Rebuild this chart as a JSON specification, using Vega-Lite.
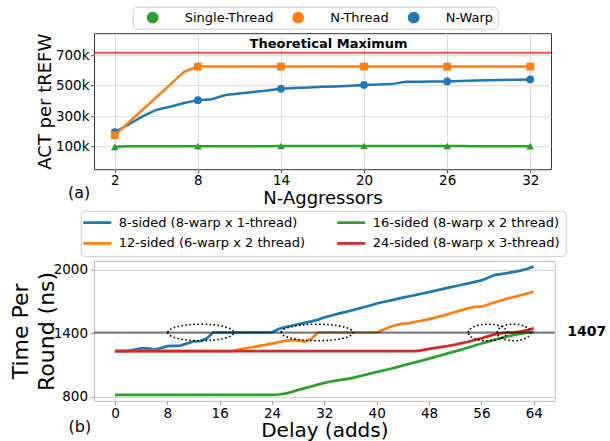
{
  "$schema": "https://vega.github.io/schema/vega-lite/v6.json",
  "padding": {"left": 9, "top": 5.2, "right": 5, "bottom": 5},
  "bounds": "flush",
  "spacing": 91.7,
  "config": {
    "font": "DejaVu Sans",
    "view": {"stroke": null},
    "axis": {"labelFont": "DejaVu Sans", "titleFont": "DejaVu Sans", "labelColor": "#000", "titleColor": "#000", "titleFontWeight": "normal", "domain": false},
    "legend": {"labelFont": "DejaVu Sans", "labelColor": "#000", "labelLimit": 400},
    "text": {"font": "DejaVu Sans"}
  },
  "resolve": {"scale": {"color": "independent", "x": "independent", "y": "independent"}, "legend": {"color": "independent"}},
  "datasets": {
    "top": [
      {"n": 2, "st": 99000, "nt": 175000, "nw": 195000},
      {"n": 3, "st": 102000, "nt": 258000, "nw": 245000},
      {"n": 4, "st": 103000, "nt": 341000, "nw": 298000},
      {"n": 5, "st": 103000, "nt": 424000, "nw": 341000},
      {"n": 6, "st": 103000, "nt": 507000, "nw": 362000},
      {"n": 7, "st": 103000, "nt": 590000, "nw": 386000},
      {"n": 8, "st": 103000, "nt": 625000, "nw": 405000},
      {"n": 9, "st": 103000, "nt": 625000, "nw": 411000},
      {"n": 10, "st": 103000, "nt": 625000, "nw": 439000},
      {"n": 11, "st": 103000, "nt": 625000, "nw": 448000},
      {"n": 12, "st": 103000, "nt": 625000, "nw": 458000},
      {"n": 13, "st": 103000, "nt": 625000, "nw": 468000},
      {"n": 14, "st": 104000, "nt": 625000, "nw": 479000},
      {"n": 15, "st": 104000, "nt": 625000, "nw": 484000},
      {"n": 16, "st": 104000, "nt": 625000, "nw": 488000},
      {"n": 17, "st": 104000, "nt": 625000, "nw": 492000},
      {"n": 18, "st": 104000, "nt": 625000, "nw": 495000},
      {"n": 19, "st": 104000, "nt": 625000, "nw": 500000},
      {"n": 20, "st": 104000, "nt": 625000, "nw": 505000},
      {"n": 21, "st": 104000, "nt": 625000, "nw": 507000},
      {"n": 22, "st": 104000, "nt": 625000, "nw": 510000},
      {"n": 23, "st": 104000, "nt": 625000, "nw": 525000},
      {"n": 24, "st": 104000, "nt": 625000, "nw": 526000},
      {"n": 25, "st": 104000, "nt": 625000, "nw": 527000},
      {"n": 26, "st": 104000, "nt": 625000, "nw": 528000},
      {"n": 27, "st": 104000, "nt": 625000, "nw": 530000},
      {"n": 28, "st": 103000, "nt": 625000, "nw": 533000},
      {"n": 29, "st": 103000, "nt": 625000, "nw": 535000},
      {"n": 30, "st": 103000, "nt": 625000, "nw": 537000},
      {"n": 31, "st": 103000, "nt": 625000, "nw": 539000},
      {"n": 32, "st": 103000, "nt": 625000, "nw": 541000}
    ],
    "bottom": [
      {"d": 0, "b": 1232, "o": 1232, "g": 819, "r": 1232},
      {"d": 1, "b": 1232, "o": 1232, "g": 819, "r": 1232},
      {"d": 2, "b": 1232, "o": 1232, "g": 819, "r": 1232},
      {"d": 3, "b": 1245, "o": 1232, "g": 819, "r": 1232},
      {"d": 4, "b": 1257, "o": 1232, "g": 819, "r": 1232},
      {"d": 5, "b": 1257, "o": 1232, "g": 819, "r": 1232},
      {"d": 6, "b": 1245, "o": 1232, "g": 819, "r": 1232},
      {"d": 7, "b": 1260, "o": 1232, "g": 819, "r": 1232},
      {"d": 8, "b": 1278, "o": 1232, "g": 819, "r": 1232},
      {"d": 9, "b": 1281, "o": 1232, "g": 819, "r": 1232},
      {"d": 10, "b": 1283, "o": 1232, "g": 819, "r": 1232},
      {"d": 11, "b": 1303, "o": 1232, "g": 819, "r": 1232},
      {"d": 12, "b": 1322, "o": 1232, "g": 819, "r": 1232},
      {"d": 13, "b": 1326, "o": 1232, "g": 819, "r": 1232},
      {"d": 14, "b": 1350, "o": 1232, "g": 819, "r": 1232},
      {"d": 15, "b": 1407, "o": 1232, "g": 819, "r": 1232},
      {"d": 16, "b": 1407, "o": 1232, "g": 819, "r": 1232},
      {"d": 17, "b": 1407, "o": 1232, "g": 819, "r": 1232},
      {"d": 18, "b": 1407, "o": 1232, "g": 819, "r": 1232},
      {"d": 19, "b": 1407, "o": 1245, "g": 819, "r": 1232},
      {"d": 20, "b": 1407, "o": 1258, "g": 819, "r": 1232},
      {"d": 21, "b": 1407, "o": 1268, "g": 819, "r": 1232},
      {"d": 22, "b": 1407, "o": 1280, "g": 819, "r": 1232},
      {"d": 23, "b": 1407, "o": 1290, "g": 819, "r": 1232},
      {"d": 24, "b": 1407, "o": 1302, "g": 819, "r": 1232},
      {"d": 25, "b": 1440, "o": 1315, "g": 822, "r": 1232},
      {"d": 26, "b": 1458, "o": 1328, "g": 831, "r": 1232},
      {"d": 27, "b": 1470, "o": 1334, "g": 846, "r": 1232},
      {"d": 28, "b": 1485, "o": 1330, "g": 866, "r": 1232},
      {"d": 29, "b": 1498, "o": 1322, "g": 882, "r": 1232},
      {"d": 30, "b": 1512, "o": 1345, "g": 898, "r": 1232},
      {"d": 31, "b": 1526, "o": 1407, "g": 915, "r": 1232},
      {"d": 32, "b": 1550, "o": 1407, "g": 932, "r": 1232},
      {"d": 33, "b": 1565, "o": 1407, "g": 945, "r": 1232},
      {"d": 34, "b": 1582, "o": 1407, "g": 956, "r": 1232},
      {"d": 35, "b": 1597, "o": 1407, "g": 965, "r": 1232},
      {"d": 36, "b": 1612, "o": 1407, "g": 974, "r": 1232},
      {"d": 37, "b": 1628, "o": 1407, "g": 989, "r": 1232},
      {"d": 38, "b": 1645, "o": 1407, "g": 1004, "r": 1232},
      {"d": 39, "b": 1662, "o": 1407, "g": 1019, "r": 1232},
      {"d": 40, "b": 1680, "o": 1407, "g": 1034, "r": 1232},
      {"d": 41, "b": 1694, "o": 1432, "g": 1049, "r": 1232},
      {"d": 42, "b": 1708, "o": 1458, "g": 1063, "r": 1232},
      {"d": 43, "b": 1722, "o": 1477, "g": 1078, "r": 1232},
      {"d": 44, "b": 1736, "o": 1490, "g": 1095, "r": 1232},
      {"d": 45, "b": 1749, "o": 1495, "g": 1112, "r": 1232},
      {"d": 46, "b": 1762, "o": 1508, "g": 1128, "r": 1232},
      {"d": 47, "b": 1775, "o": 1520, "g": 1144, "r": 1240},
      {"d": 48, "b": 1788, "o": 1533, "g": 1160, "r": 1252},
      {"d": 49, "b": 1802, "o": 1548, "g": 1177, "r": 1262},
      {"d": 50, "b": 1816, "o": 1563, "g": 1194, "r": 1272},
      {"d": 51, "b": 1830, "o": 1582, "g": 1212, "r": 1282},
      {"d": 52, "b": 1843, "o": 1600, "g": 1229, "r": 1293},
      {"d": 53, "b": 1857, "o": 1618, "g": 1247, "r": 1306},
      {"d": 54, "b": 1870, "o": 1636, "g": 1265, "r": 1320},
      {"d": 55, "b": 1884, "o": 1648, "g": 1284, "r": 1336},
      {"d": 56, "b": 1898, "o": 1650, "g": 1303, "r": 1353},
      {"d": 57, "b": 1922, "o": 1670, "g": 1321, "r": 1370},
      {"d": 58, "b": 1948, "o": 1690, "g": 1339, "r": 1388},
      {"d": 59, "b": 1958, "o": 1708, "g": 1355, "r": 1400},
      {"d": 60, "b": 1968, "o": 1727, "g": 1370, "r": 1405},
      {"d": 61, "b": 1978, "o": 1742, "g": 1383, "r": 1408},
      {"d": 62, "b": 1990, "o": 1758, "g": 1395, "r": 1415},
      {"d": 63, "b": 2008, "o": 1775, "g": 1405, "r": 1430},
      {"d": 64, "b": 2028, "o": 1793, "g": 1413, "r": 1447}
    ],
    "ellipses": [
      {"d": 13.12, "t": 1407, "e": "e1"},
      {"d": 30.9, "t": 1407, "e": "e2"},
      {"d": 56.97, "t": 1407, "e": "e3"},
      {"d": 60.95, "t": 1407, "e": "e4"}
    ]
  },
  "vconcat": [
    {
      "width": 457,
      "height": 136,
      "view": {"stroke": "#333333", "strokeWidth": 1},
      "layer": [
        {
          "data": {"name": "top"},
          "transform": [{"fold": ["st", "nw", "nt"], "as": ["s", "act"]}],
          "mark": {"type": "line", "strokeWidth": 2.5},
          "encoding": {
            "x": {"field": "n", "type": "quantitative", "scale": {"domain": [0.5, 33.5], "nice": false, "zero": false},
              "axis": {"title": "N-Aggressors", "values": [2, 8, 14, 20, 26, 32], "labelFontSize": 13.5, "titleFontSize": 18, "titleBaseline": "alphabetic", "titleY": 34.7, "grid": true, "gridColor": "#d9d9d9", "tickSize": 3.5, "tickColor": "#555", "labelPadding": 1}},
            "y": {"field": "act", "type": "quantitative", "scale": {"domain": [-48000, 844000], "nice": false, "zero": false},
              "axis": {"title": "ACT per tREFW", "values": [100000, 300000, 500000, 700000], "format": "~s", "labelFontSize": 13.5, "titleFontSize": 18, "titleX": -48.5, "titleY": 68, "titleBaseline": "middle", "titleAlign": "center", "grid": true, "gridColor": "#d9d9d9", "tickSize": 3.5, "tickColor": "#555", "labelPadding": 1.5}},
            "stroke": {"field": "s", "type": "nominal", "scale": {"domain": ["st", "nt", "nw"], "range": ["#2ca02c", "#ff7f0e", "#1f77b4"]}, "legend": null}
          }
        },
        {
          "data": {"name": "top"},
          "transform": [{"fold": ["st", "nw", "nt"], "as": ["s", "act"]}, {"filter": {"field": "n", "oneOf": [2, 8, 14, 20, 26, 32]}}],
          "mark": {"type": "point", "filled": true, "opacity": 1, "size": 60},
          "encoding": {
            "x": {"field": "n", "type": "quantitative"},
            "y": {"field": "act", "type": "quantitative"},
            "color": {"field": "s", "type": "nominal", "scale": {"domain": ["st", "nt", "nw"], "range": ["#2ca02c", "#ff7f0e", "#1f77b4"]},
              "legend": {"orient": "none", "legendX": 38.7, "legendY": -26.6, "columns": 3, "title": null, "labelFontSize": 13, "symbolSize": 140, "symbolOffset": 9, "labelOffset": 25, "columnPadding": 8.5, "padding": 4, "strokeColor": "#cccccc", "fillColor": "#ffffff", "cornerRadius": 4,
                "labelExpr": "datum.label == 'st' ? 'Single-Thread' : datum.label == 'nt' ? 'N-Thread' : 'N-Warp'",
                "encode": {"symbols": {"shape": {"value": {"expr": "datum.value == 'st' ? 'triangle-up' : datum.value == 'nt' ? 'square' : 'circle'"}}}}}},
            "shape": {"field": "s", "type": "nominal", "scale": {"domain": ["st", "nt", "nw"], "range": ["triangle-up", "square", "circle"]}, "legend": null}
          }
        },
        {
          "data": {"values": [{"act": 715000}]},
          "mark": {"type": "rule", "color": "#ff0000", "opacity": 0.7, "strokeWidth": 2},
          "encoding": {"y": {"field": "act", "type": "quantitative"}}
        },
        {
          "data": {"values": [{"n": 17.44, "act": 774000, "label": "Theoretical Maximum"}]},
          "mark": {"type": "text", "fontSize": 13, "fontWeight": "bold", "align": "center", "baseline": "middle", "color": "#000"},
          "encoding": {"x": {"field": "n", "type": "quantitative"}, "y": {"field": "act", "type": "quantitative"}, "text": {"field": "label"}}
        },
        {
          "data": {"values": [{"n": -0.58, "act": -204000, "label": "(a)"}]},
          "mark": {"type": "text", "fontSize": 16, "align": "center", "baseline": "middle", "color": "#000"},
          "encoding": {"x": {"field": "n", "type": "quantitative"}, "y": {"field": "act", "type": "quantitative"}, "text": {"field": "label"}}
        }
      ]
    },
    {
      "width": 460.7,
      "height": 140,
      "view": {"stroke": "#bdbdbd", "strokeWidth": 1},
      "layer": [
        {
          "data": {"name": "bottom"},
          "transform": [{"fold": ["b", "o", "g", "r"], "as": ["s", "t"]}],
          "mark": {"type": "line", "strokeWidth": 2.7},
          "encoding": {
            "x": {"field": "d", "type": "quantitative", "scale": {"domain": [-3.2, 67.2], "nice": false, "zero": false},
              "axis": {"title": "Delay (adds)", "values": [0, 4, 8, 12, 16, 20, 24, 28, 32, 36, 40, 44, 48, 52, 56, 60, 64], "labelFontSize": 13.5, "titleFontSize": 20, "titleBaseline": "alphabetic", "titleY": 36, "grid": false, "tickSize": 3.5, "tickColor": "#999", "labelPadding": 2}},
            "y": {"field": "t", "type": "quantitative", "scale": {"domain": [762, 2082], "nice": false, "zero": false},
              "axis": {"title": ["Time Per", "Round (ns)"], "values": [800, 1400, 2000], "format": "d", "labelFontSize": 13.5, "titleFontSize": 22, "titleLineHeight": 26, "titleX": -73.3, "titleY": 70, "titleBaseline": "middle", "titleAlign": "center", "grid": true, "gridColor": "#cccccc", "tickSize": 3.5, "tickColor": "#999", "labelPadding": 3}},
            "color": {"field": "s", "type": "nominal", "scale": {"domain": ["b", "o", "g", "r"], "range": ["#1f77b4", "#ff7f0e", "#2ca02c", "#d62728"]},
              "legend": {"orient": "none", "legendX": -13.3, "legendY": -50, "columns": 2, "title": null, "labelFontSize": 13, "symbolType": "M-14,0L14,0", "symbolSize": 4, "symbolStrokeWidth": 2.7, "symbolOffset": 5, "labelOffset": 15, "columnPadding": 26, "rowPadding": 7, "padding": 5, "strokeColor": "#cccccc", "fillColor": "#ffffff", "cornerRadius": 4,
                "labelExpr": "datum.label == 'b' ? '8-sided (8-warp x 1-thread)' : datum.label == 'g' ? '16-sided (8-warp x 2 thread)' : datum.label == 'o' ? '12-sided (6-warp x 2 thread)' : '24-sided (8-warp x 3-thread)'"}}
          }
        },
        {
          "data": {"values": [{"t": 1407}]},
          "mark": {"type": "rule", "color": "#000000", "opacity": 0.5, "strokeWidth": 2},
          "encoding": {"y": {"field": "t", "type": "quantitative"}}
        },
        {
          "data": {"name": "ellipses"},
          "transform": [{"filter": {"field": "e", "equal": "e1"}}],
          "mark": {"type": "point", "size": 4, "filled": false, "opacity": 1, "strokeWidth": 1.6, "strokeDash": [1.6, 2.4], "color": "#000000",
            "shape": "M-33,0C-33,-4.58,-18.23,-8.3,0,-8.3C18.23,-8.3,33,-4.58,33,0C33,4.58,18.23,8.3,0,8.3C-18.23,8.3,-33,4.58,-33,0Z"},
          "encoding": {"x": {"field": "d", "type": "quantitative"}, "y": {"field": "t", "type": "quantitative"}}
        },
        {
          "data": {"name": "ellipses"},
          "transform": [{"filter": {"field": "e", "equal": "e2"}}],
          "mark": {"type": "point", "size": 4, "filled": false, "opacity": 1, "strokeWidth": 1.6, "strokeDash": [1.6, 2.4], "color": "#000000",
            "shape": "M-36,0C-36,-4.58,-19.88,-8.3,0,-8.3C19.88,-8.3,36,-4.58,36,0C36,4.58,19.88,8.3,0,8.3C-19.88,8.3,-36,4.58,-36,0Z"},
          "encoding": {"x": {"field": "d", "type": "quantitative"}, "y": {"field": "t", "type": "quantitative"}}
        },
        {
          "data": {"name": "ellipses"},
          "transform": [{"filter": {"field": "e", "equal": "e3"}}],
          "mark": {"type": "point", "size": 4, "filled": false, "opacity": 1, "strokeWidth": 1.6, "strokeDash": [1.6, 2.4], "color": "#000000",
            "shape": "M-19.5,0C-19.5,-4.58,-10.77,-8.3,0,-8.3C10.77,-8.3,19.5,-4.58,19.5,0C19.5,4.58,10.77,8.3,0,8.3C-10.77,8.3,-19.5,4.58,-19.5,0Z"},
          "encoding": {"x": {"field": "d", "type": "quantitative"}, "y": {"field": "t", "type": "quantitative"}}
        },
        {
          "data": {"name": "ellipses"},
          "transform": [{"filter": {"field": "e", "equal": "e4"}}],
          "mark": {"type": "point", "size": 4, "filled": false, "opacity": 1, "strokeWidth": 1.6, "strokeDash": [1.6, 2.4], "color": "#000000",
            "shape": "M-16.7,0C-16.7,-4.58,-9.22,-8.3,0,-8.3C9.22,-8.3,16.7,-4.58,16.7,0C16.7,4.58,9.22,8.3,0,8.3C-9.22,8.3,-16.7,4.58,-16.7,0Z"},
          "encoding": {"x": {"field": "d", "type": "quantitative"}, "y": {"field": "t", "type": "quantitative"}}
        },
        {
          "data": {"values": [{"d": 69.13, "t": 1407, "label": "1407"}]},
          "mark": {"type": "text", "fontSize": 14, "fontWeight": "bold", "align": "left", "baseline": "middle", "color": "#000"},
          "encoding": {"x": {"field": "d", "type": "quantitative"}, "y": {"field": "t", "type": "quantitative"}, "text": {"field": "label"}}
        },
        {
          "data": {"values": [{"d": -5.37, "t": 512, "label": "(b)"}]},
          "mark": {"type": "text", "fontSize": 16, "align": "center", "baseline": "middle", "color": "#000"},
          "encoding": {"x": {"field": "d", "type": "quantitative"}, "y": {"field": "t", "type": "quantitative"}, "text": {"field": "label"}}
        }
      ]
    }
  ]
}
